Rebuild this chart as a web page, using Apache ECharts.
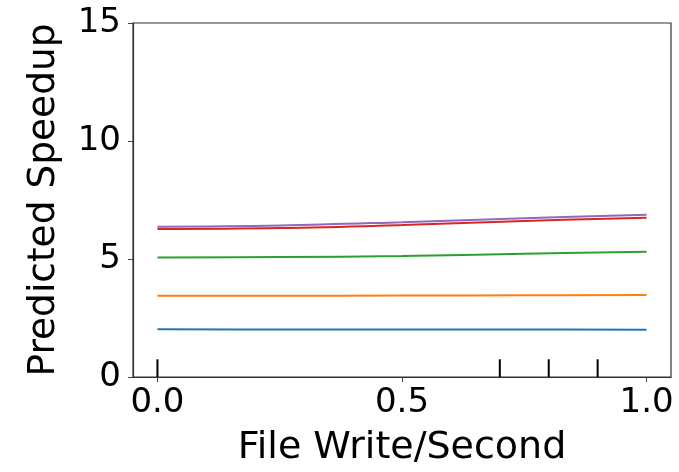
<!DOCTYPE html>
<html>
<head>
<meta charset="utf-8">
<script src="https://cdn.jsdelivr.net/npm/echarts@6/dist/echarts.min.js"></script>
<style>
  html, body { margin: 0; padding: 0; background: #fff; }
  #chart { width: 679px; height: 472px; }
</style>
</head>
<body>
<div id="chart"></div>
<script>
// Grid of feature values where the partial dependence was evaluated
const xValues = [0.0, 0.25, 0.5, 0.75, 1.0];

// Predicted speedup curves, one per model configuration
const speedupBlue   = [2.02, 2.01, 2.01, 2.01, 2.00];
const speedupOrange = [3.44, 3.44, 3.45, 3.46, 3.47];
const speedupGreen  = [5.06, 5.08, 5.13, 5.22, 5.31];
const speedupRed    = [6.27, 6.31, 6.44, 6.61, 6.75];
const speedupPurple = [6.37, 6.42, 6.56, 6.73, 6.88];

// Decile positions of the training data (rug marks on the x axis)
const decileMarks = [0.0, 0.7, 0.8, 0.9];

// Axis ticks
const xTicks = [0.0, 0.5, 1.0];
const yTicks = [0, 5, 10, 15];

const curves = [
  { name: 'c1', values: speedupBlue,   color: '#1f77b4' },
  { name: 'c2', values: speedupOrange, color: '#ff7f0e' },
  { name: 'c3', values: speedupGreen,  color: '#2ca02c' },
  { name: 'c4', values: speedupRed,    color: '#d62728' },
  { name: 'c5', values: speedupPurple, color: '#9467bd' }
];

const FONT = 'DejaVu Sans';

const lineSeries = curves.map(c => ({
  name: c.name,
  type: 'line',
  smooth: 0.4,
  symbol: 'none',
  lineStyle: { color: c.color, width: 2 },
  data: xValues.map((x, i) => [x, c.values[i]]),
  z: 3
}));

// Rug marks: short vertical strokes rising from the bottom of the plot area
const rugSeries = {
  type: 'custom',
  data: decileMarks.map(x => [x]),
  renderItem: function (params, api) {
    const p = api.coord([api.value(0), 0]);
    const h = params.coordSys.height * 0.05;
    return {
      type: 'line',
      shape: { x1: p[0], y1: p[1], x2: p[0], y2: p[1] - h },
      style: { stroke: '#000', lineWidth: 2 }
    };
  },
  z: 4
};

const chart = echarts.init(document.getElementById('chart'), null, { renderer: 'canvas' });
chart.setOption({
  animation: false,
  backgroundColor: '#fff',
  grid: {
    left: 133, right: 8, top: 23, bottom: 93,
    show: true, borderColor: '#333', borderWidth: 1.2, backgroundColor: 'transparent'
  },
  xAxis: {
    type: 'value',
    min: -0.05, max: 1.05,
    name: 'File Write/Second',
    nameLocation: 'middle',
    nameGap: 52,
    nameTextStyle: { fontFamily: FONT, fontSize: 38, color: '#000' },
    axisLine: { show: true, onZero: false, lineStyle: { color: '#333', width: 1.2 } },
    axisTick: { show: true, customValues: xTicks, length: 5, inside: false, lineStyle: { color: '#444' } },
    axisLabel: {
      customValues: xTicks, margin: 9,
      fontFamily: FONT, fontSize: 34, color: '#000',
      formatter: v => v.toFixed(1)
    },
    splitLine: { show: false }
  },
  yAxis: {
    type: 'value',
    min: 0, max: 15, interval: 5,
    name: 'Predicted Speedup',
    nameLocation: 'middle',
    nameRotate: 90,
    nameGap: 70,
    nameTextStyle: { fontFamily: FONT, fontSize: 37.5, color: '#000' },
    axisLine: { show: true, onZero: false, lineStyle: { color: '#333', width: 1.2 } },
    axisTick: { show: true, length: 5, inside: false, lineStyle: { color: '#444' } },
    axisLabel: {
      customValues: yTicks, margin: 12,
      fontFamily: FONT, fontSize: 34, color: '#000'
    },
    splitLine: { show: false }
  },
  series: lineSeries.concat([rugSeries])
});
</script>
</body>
</html>
